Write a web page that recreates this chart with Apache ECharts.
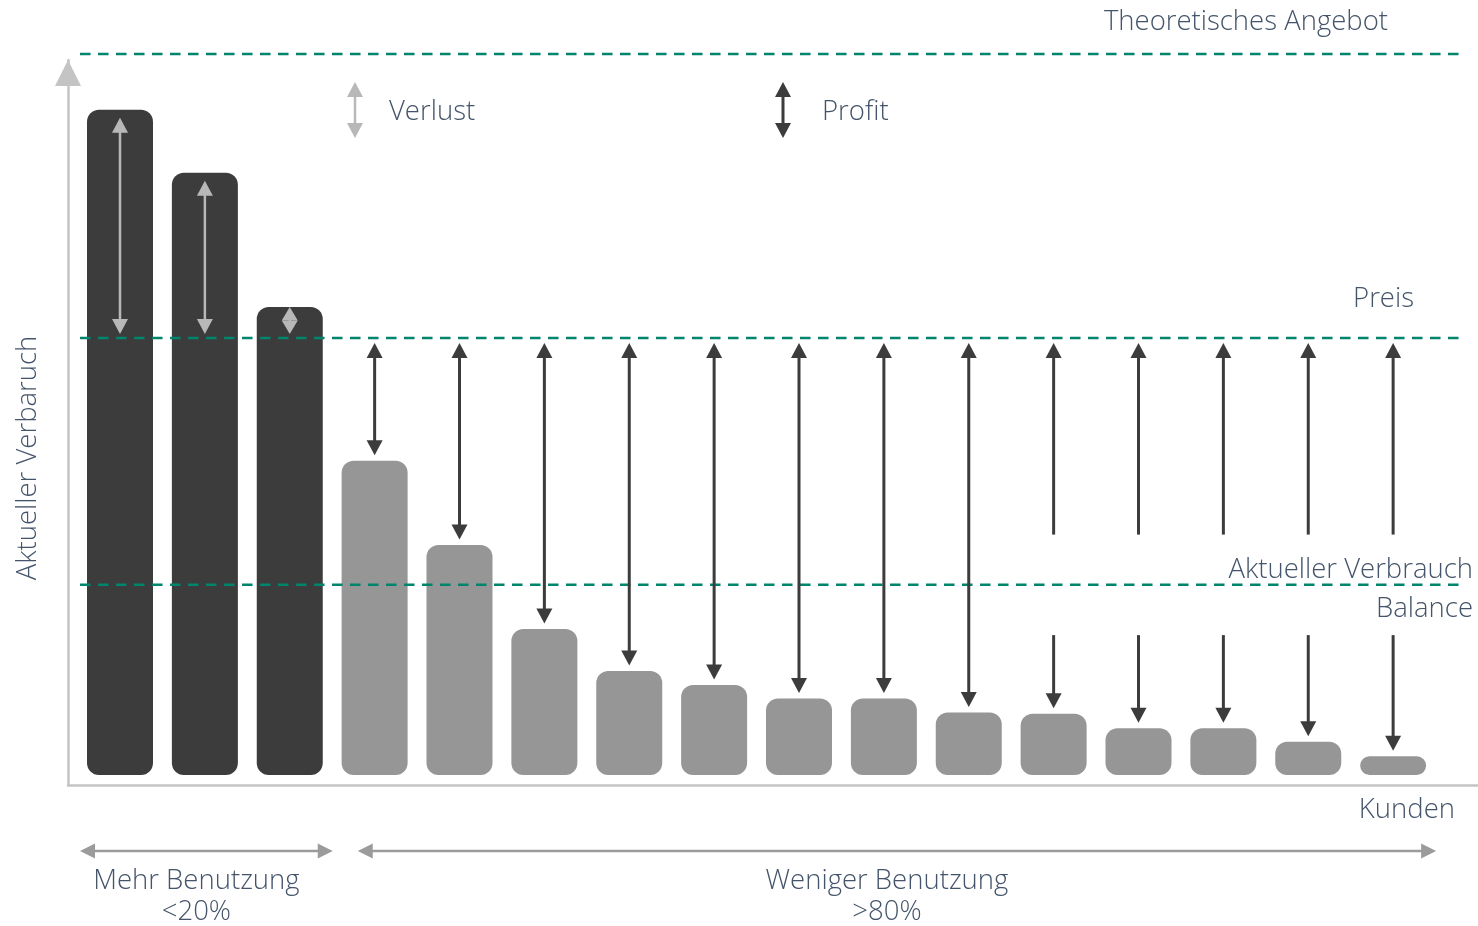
<!DOCTYPE html>
<html>
<head>
<meta charset="utf-8">
<script src="https://cdn.jsdelivr.net/npm/echarts@6/dist/echarts.min.js"></script>
<style>
  html, body { margin: 0; padding: 0; background: #ffffff; }
  #chart { width: 1478px; height: 926px; }
</style>
</head>
<body>
<div id="chart"></div>
<script>
// Verbrauch je Kunde (Preis = 100)
const kunden = ['K1', 'K2', 'K3', 'K4', 'K5', 'K6', 'K7', 'K8',
                'K9', 'K10', 'K11', 'K12', 'K13', 'K14', 'K15', 'K16'];
const verbrauch = [152.2, 137.8, 107.1, 71.9, 52.6, 33.4, 23.8, 20.6,
                   17.5, 17.5, 14.3, 14.0, 10.7, 10.7, 7.6, 4.3];
const vielnutzer = 3;          // die ersten Kunden mit hoher Nutzung
const preis = 100;
const angebot = 165;
const balance = 43.5;
const beschriftetAb = 11;      // Pfeile ab diesem Kunden lassen Platz für die Balance-Beschriftung
const gruppen = [
  { name: 'Mehr Benutzung', anteil: '<20%', von: 0, bis: 2 },
  { name: 'Weniger Benutzung', anteil: '>80%', von: 3, bis: 15 }
];
const linien = [angebot, preis, balance];

const FONT = "'Open Sans', 'Noto Sans', sans-serif";
const TEXT = '#44546a';
const DUNKEL = '#3c3c3c';
const HELL = '#b8b8b8';
const BALKEN_GRAU = '#969696';
const GRUEN = '#00856d';
const ACHSE = '#c4c4c4';

const Y_MIN = -2.3, Y_MAX = 163.6;
const X_MIN = -0.6127, X_MAX = 16.0;
const LINIE_VON = -0.471, LINIE_BIS = 15.81;

// senkrechter Pfeil in Pixelkoordinaten (yA oben, yB unten)
function pfeil(x, yA, yB, farbe, breite, spitzeA, spitzeB) {
  const len = yB - yA;
  const w = 16;
  let h = 15;
  if (spitzeA && spitzeB) h = Math.min(h, len / 2);
  else if (spitzeA || spitzeB) h = Math.min(h, len);
  const teile = [];
  const l1 = spitzeA ? yA + h * 0.6 : yA;
  const l2 = spitzeB ? yB - h * 0.6 : yB;
  if (l2 > l1) {
    teile.push({ type: 'line', shape: { x1: x, y1: l1, x2: x, y2: l2 },
      style: { stroke: farbe, lineWidth: breite } });
  }
  if (spitzeA) {
    teile.push({ type: 'polygon', shape: { points: [[x, yA], [x - w / 2, yA + h], [x + w / 2, yA + h]] },
      style: { fill: farbe } });
  }
  if (spitzeB) {
    teile.push({ type: 'polygon', shape: { points: [[x, yB], [x - w / 2, yB - h], [x + w / 2, yB - h]] },
      style: { fill: farbe } });
  }
  return teile;
}

// waagerechter Doppelpfeil
function doppelpfeilH(x1, x2, y, farbe) {
  const h = 15, w = 15;
  return [
    { type: 'line', shape: { x1: x1 + h * 0.6, y1: y, x2: x2 - h * 0.6, y2: y },
      style: { stroke: farbe, lineWidth: 2.5 } },
    { type: 'polygon', shape: { points: [[x1, y], [x1 + h, y - w / 2], [x1 + h, y + w / 2]] },
      style: { fill: farbe } },
    { type: 'polygon', shape: { points: [[x2, y], [x2 - h, y - w / 2], [x2 - h, y + w / 2]] },
      style: { fill: farbe } }
  ];
}

const balkenDaten = verbrauch.map((v, i) => ({
  value: [i, v],
  itemStyle: { color: i < vielnutzer ? DUNKEL : BALKEN_GRAU }
}));

const chart = echarts.init(document.getElementById('chart'), null, { renderer: 'canvas' });

const textStil = (extra) => Object.assign({
  fill: TEXT, fontFamily: FONT, fontSize: 27.5, fontWeight: 300
}, extra);

chart.setOption({
  animation: false,
  backgroundColor: '#ffffff',
  grid: { left: 68, right: 0, top: 60, bottom: 141, containLabel: false },
  xAxis: {
    type: 'value', min: X_MIN, max: X_MAX,
    axisLine: { show: true, onZero: false, lineStyle: { color: ACHSE, width: 2.5 } },
    axisTick: { show: false }, axisLabel: { show: false }, splitLine: { show: false }
  },
  yAxis: {
    type: 'value', min: Y_MIN, max: Y_MAX,
    axisLine: {
      show: true, onZero: false,
      lineStyle: { color: ACHSE, width: 2.5 },
      symbol: ['none', 'triangle'], symbolSize: [26, 26], symbolOffset: [0, -13]
    },
    axisTick: { show: false }, axisLabel: { show: false }, splitLine: { show: false }
  },
  series: [
    {
      name: 'Verbrauch',
      type: 'bar',
      data: balkenDaten,
      barWidth: 66,
      itemStyle: { borderRadius: 12 },
      z: 2
    },
    {
      // gestrichelte Referenzlinien: Angebot, Preis, Balance
      type: 'custom',
      data: linien.map(v => [v]),
      z: 3,
      renderItem: function (params, api) {
        const v = api.value(0);
        const a = api.coord([LINIE_VON, v]);
        const b = api.coord([LINIE_BIS, v]);
        return {
          type: 'line',
          shape: { x1: a[0], y1: a[1], x2: b[0], y2: b[1] },
          style: { stroke: GRUEN, lineWidth: 2.5, lineDash: [10.5, 7.5] }
        };
      }
    },
    {
      // Verlust- und Profitpfeile zwischen Preis und Verbrauch
      type: 'custom',
      data: verbrauch.map((v, i) => [i, v]),
      z: 4,
      renderItem: function (params, api) {
        const i = api.value(0);
        const v = api.value(1);
        const oben = api.coord([i, v]);
        const x = oben[0];
        const yBalken = oben[1];
        const yPreis = api.coord([i, preis])[1];
        let teile;
        if (v > preis) {
          const yUnten = yPreis - 4;
          const yOben = Math.min(yBalken + 8, yUnten - 27);
          teile = pfeil(x, yOben, yUnten, HELL, 2.5, true, true);
        } else if (i >= beschriftetAb) {
          const yLueckeOben = api.coord([i, balance + 11.5])[1];
          const yLueckeUnten = api.coord([i, balance - 11.5])[1];
          teile = pfeil(x, yPreis + 5, yLueckeOben, DUNKEL, 3, true, false)
            .concat(pfeil(x, yLueckeUnten, yBalken - 5.5, DUNKEL, 3, false, true));
        } else {
          teile = pfeil(x, yPreis + 5, yBalken - 5.5, DUNKEL, 3, true, true);
        }
        return { type: 'group', children: teile };
      }
    },
    {
      // Kundengruppen unter der Achse
      type: 'custom',
      data: gruppen.map(g => [g.von, g.bis]),
      z: 4,
      renderItem: function (params, api) {
        const g = gruppen[params.dataIndex];
        const yAchse = api.coord([0, Y_MIN])[1];
        const y = yAchse + 66;
        let x1;
        if (params.dataIndex === 0) {
          x1 = api.coord([LINIE_VON, 0])[0];
        } else {
          const vorher = gruppen[params.dataIndex - 1];
          x1 = api.coord([vorher.bis, 0])[0] + 33 + 10 + 25;
        }
        const x2 = api.coord([g.bis, 0])[0] + 33 + 10;
        const mitte = (x1 + x2) / 2 - 10;
        const teile = doppelpfeilH(x1, x2, y, '#9b9b9b');
        teile.push({ type: 'text', x: mitte, y: y + 30,
          style: textStil({ text: g.name, align: 'center', verticalAlign: 'middle' }) });
        teile.push({ type: 'text', x: mitte, y: y + 61,
          style: textStil({ text: g.anteil, align: 'center', verticalAlign: 'middle' }) });
        return { type: 'group', children: teile };
      }
    }
  ],
  graphic: [
    { type: 'text', x: 1388, y: 22, style: textStil({ text: 'Theoretisches Angebot', align: 'right', verticalAlign: 'middle' }) },
    { type: 'text', x: 1414, y: 299, style: textStil({ text: 'Preis', align: 'right', verticalAlign: 'middle' }) },
    { type: 'text', x: 1473, y: 570, style: textStil({ text: 'Aktueller Verbrauch', align: 'right', verticalAlign: 'middle' }) },
    { type: 'text', x: 1473, y: 609, style: textStil({ text: 'Balance', align: 'right', verticalAlign: 'middle' }) },
    { type: 'text', x: 1455, y: 810, style: textStil({ text: 'Kunden', align: 'right', verticalAlign: 'middle' }) },
    { type: 'text', x: 28, y: 458, rotation: Math.PI / 2,
      style: textStil({ text: 'Aktueller Verbaruch', align: 'center', verticalAlign: 'middle' }) },
    { type: 'group', children: pfeil(355, 82, 138, HELL, 2.5, true, true) },
    { type: 'text', x: 389, y: 112, style: textStil({ text: 'Verlust', align: 'left', verticalAlign: 'middle' }) },
    { type: 'group', children: pfeil(783, 82, 138, DUNKEL, 3, true, true) },
    { type: 'text', x: 822, y: 112, style: textStil({ text: 'Profit', align: 'left', verticalAlign: 'middle' }) }
  ]
});
</script>
</body>
</html>
